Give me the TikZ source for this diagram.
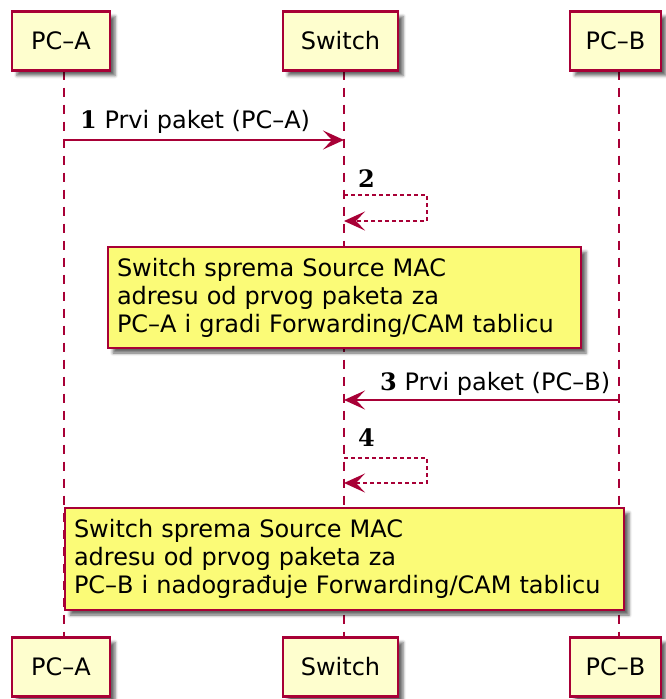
\documentclass[tikz,border=0pt]{standalone}
\usepackage{fontspec}
\setmainfont{DejaVu Sans}
\newfontfamily\numfont{DejaVu Serif}
\usetikzlibrary{arrows.meta,shadows.blur}
\definecolor{umlred}{HTML}{A80036}
\definecolor{partfill}{HTML}{FEFECE}
\definecolor{notefill}{HTML}{FBFB77}
\begin{document}
\begin{tikzpicture}[x=1pt,y=-1pt,
  txt/.style={font=\fontsize{24}{28}\selectfont},
  part/.style={txt, draw=umlred, fill=partfill, line width=2.2pt, inner sep=0pt,
    minimum height=59pt,
    blur shadow={shadow xshift=5pt, shadow yshift=-5pt, shadow blur radius=3pt, shadow opacity=60}},
  notebox/.style={txt, draw=umlred, fill=notefill, line width=1.8pt, inner xsep=9pt, inner ysep=0pt,
    align=left,
    blur shadow={shadow xshift=5pt, shadow yshift=-5pt, shadow blur radius=3pt, shadow opacity=60}},
  life/.style={draw=umlred, line width=1.6pt, dash pattern=on 9pt off 8pt},
  msg/.style={draw=umlred, line width=1.6pt, -{Stealth[length=21pt,width=19pt,inset=9pt]}},
  selfmsg/.style={msg, dash pattern=on 4pt off 3pt},
  lbl/.style={txt, anchor=base west, inner sep=0pt},
]
\useasboundingbox (0,0) rectangle (665,699);

% lifeline end points
\coordinate (a0) at (64,70.5);   \coordinate (a1) at (64,637.5);
\coordinate (s0) at (344,70.5);  \coordinate (s1) at (344,637.5);
\coordinate (b0) at (619,70.5);  \coordinate (b1) at (619,637.5);
\draw[life] (a0) -- (a1);
\draw[life] (s0) -- (s1);
\draw[life] (b0) -- (b1);

% participants
\node[part, minimum width=98pt] (pa) at (61,41) {PC–A};
\node[part, minimum width=115pt] (ps) at (340.5,41) {Switch};
\node[part, minimum width=91pt] (pb) at (615.5,41) {PC–B};
\node[part, minimum width=98pt] (pa2) at (61,667) {PC–A};
\node[part, minimum width=115pt] (ps2) at (340.5,667) {Switch};
\node[part, minimum width=91pt] (pb2) at (615.5,667) {PC–B};

% message rows
\coordinate (r1) at (0,140);
\coordinate (r2a) at (0,195); \coordinate (r2b) at (0,221);
\coordinate (r3) at (0,400);
\coordinate (r4a) at (0,458); \coordinate (r4b) at (0,483);
\coordinate (loopx) at (427,0);

% 1
\draw[msg] (a0 |- r1) -- (s0 |- r1);
\node[lbl] (l1) at (80,128.5) {{\numfont\bfseries 1} Prvi paket (PC–A)};
% 2
\draw[selfmsg] (s0 |- r2a) -- (loopx |- r2a) -- (loopx |- r2b) -- (s0 |- r2b);
\node[lbl] (l2) at (358,187) {\numfont\bfseries 2};
% note 1
\node[notebox, minimum width=473pt, minimum height=101pt, text width=455pt] (n1) at (344.5,297.5)
  {Switch sprema Source MAC\\adresu od prvog paketa za\\PC–A i gradi Forwarding/CAM tablicu};
% 3
\draw[msg] (b0 |- r3) -- (s0 |- r3);
\node[lbl] (l3) at (380,390) {{\numfont\bfseries 3} Prvi paket (PC–B)};
% 4
\draw[selfmsg] (s0 |- r4a) -- (loopx |- r4a) -- (loopx |- r4b) -- (s0 |- r4b);
\node[lbl] (l4) at (358,446) {\numfont\bfseries 4};
% note 2
\node[notebox, minimum width=559pt, minimum height=102pt, text width=541pt] (n2) at (344.5,559)
  {Switch sprema Source MAC\\adresu od prvog paketa za\\PC–B i nadograđuje Forwarding/CAM tablicu};
\end{tikzpicture}
\end{document}
